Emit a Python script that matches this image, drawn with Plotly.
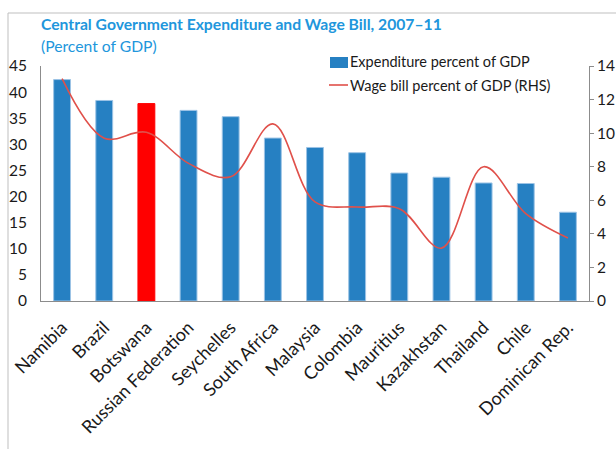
import plotly.graph_objects as go

# Chart data
countries = ["Namibia", "Brazil", "Botswana", "Russian Federation", "Seychelles",
             "South Africa", "Malaysia", "Colombia", "Mauritius", "Kazakhstan",
             "Thailand", "Chile", "Dominican Rep."]
expenditure = [42.4, 38.4, 37.8, 36.5, 35.3, 31.2, 29.4, 28.4, 24.5, 23.7, 22.6, 22.5, 17.0]
wage_bill = [13.25, 9.7, 10.05, 8.2, 7.4, 10.55, 5.9, 5.6, 5.5, 3.15, 8.0, 5.2, 3.75]
highlight = "Botswana"

left_ticks = [0, 5, 10, 15, 20, 25, 30, 35, 40, 45]
right_ticks = [0, 2, 4, 6, 8, 10, 12, 14]

BLUE = "#2680C2"
RED_BAR = "#FF0000"
LINE = "#E0504A"
TITLE = "#2196DC"
FONT = "Lato, 'Open Sans', sans-serif"

W, H = 616, 449
ML, MR, MT, MB = 41, 27, 66, 148
PW, PH = W - ML - MR, H - MT - MB


def px(x):
    return (x - ML) / PW


def py(y):
    return (H - MB - y) / PH


bar_colors = [RED_BAR if c == highlight else BLUE for c in countries]
bar_lines = ["#FF0000" if c == highlight else "#9CC3E5" for c in countries]

fig = go.Figure()
fig.add_trace(go.Bar(
    x=countries, y=expenditure, name="Expenditure percent of GDP",
    marker=dict(color=bar_colors, line=dict(color=bar_lines, width=1)),
    yaxis="y",
))
fig.add_trace(go.Scatter(
    x=countries, y=wage_bill, name="Wage bill percent of GDP (RHS)",
    mode="lines", line=dict(color=LINE, width=1.6, shape="spline", smoothing=1.0),
    yaxis="y2",
))

axis_grey = "#8C8C8C"
fig.update_layout(
    width=W, height=H,
    margin=dict(l=ML, r=MR, t=MT, b=MB, autoexpand=False),
    paper_bgcolor="white", plot_bgcolor="white",
    showlegend=False,
    bargap=0.6,
    font=dict(family=FONT, size=15, color="#1a1a1a"),
    xaxis=dict(
        range=[-0.5, len(countries) - 0.5], tickangle=-45,
        showline=True, linecolor=axis_grey, linewidth=1,
        ticks="", showgrid=False, tickfont=dict(size=18),
        ticklabelstandoff=8,
    ),
    yaxis=dict(
        range=[0, 45], tickvals=left_ticks, showgrid=False,
        showline=True, linecolor=axis_grey, linewidth=1, ticks="",
        tickfont=dict(size=15.5), zeroline=False, ticklabelstandoff=10,
    ),
    yaxis2=dict(
        range=[0, 14], tickvals=right_ticks, overlaying="y", side="right",
        showgrid=False, showline=True, linecolor=axis_grey, linewidth=1,
        ticks="outside", ticklen=4, tickcolor=axis_grey,
        tickfont=dict(size=15.5), zeroline=False,
    ),
)

# Frame around the chart area (top and left edges)
fig.add_shape(type="line", xref="paper", yref="paper",
              x0=px(8), x1=px(W + 5), y0=py(13), y1=py(13),
              line=dict(color="#BFBFBF", width=1))
fig.add_shape(type="line", xref="paper", yref="paper",
              x0=px(8), x1=px(8), y0=py(13), y1=py(H + 5),
              line=dict(color="#BFBFBF", width=1))

# Titles
fig.add_annotation(text="<b>Central Government Expenditure and Wage Bill, 2007–11</b>",
                   xref="paper", yref="paper", x=px(39), y=py(24),
                   xanchor="left", yanchor="middle", showarrow=False,
                   font=dict(family=FONT, size=15.7, color=TITLE))
fig.add_annotation(text="(Percent of GDP)",
                   xref="paper", yref="paper", x=px(39), y=py(46),
                   xanchor="left", yanchor="middle", showarrow=False,
                   font=dict(family=FONT, size=15.7, color=TITLE))

# Legend
fig.add_shape(type="rect", xref="paper", yref="paper",
              x0=px(330), x1=px(348), y0=py(57), y1=py(68),
              fillcolor=BLUE, line=dict(width=0))
fig.add_annotation(text="Expenditure percent of GDP",
                   xref="paper", yref="paper", x=px(348), y=py(62),
                   xanchor="left", yanchor="middle", showarrow=False,
                   font=dict(family=FONT, size=14.5))
fig.add_shape(type="line", xref="paper", yref="paper",
              x0=px(329), x1=px(348), y0=py(85), y1=py(85),
              line=dict(color=LINE, width=1.6))
fig.add_annotation(text="Wage bill percent of GDP (RHS)",
                   xref="paper", yref="paper", x=px(348), y=py(85),
                   xanchor="left", yanchor="middle", showarrow=False,
                   font=dict(family=FONT, size=14.5))

fig.write_html("out.html")
